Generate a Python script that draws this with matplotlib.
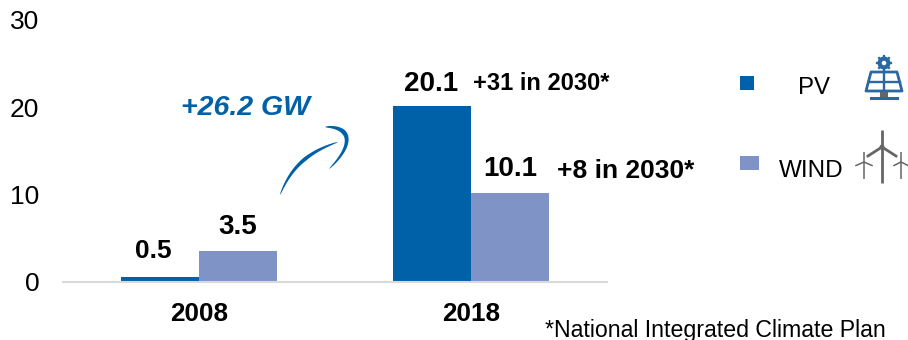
import numpy as np
import matplotlib
matplotlib.use("Agg")
import matplotlib.pyplot as plt
from matplotlib.patches import Circle, Polygon, Rectangle

plt.rcParams["font.family"] = ["Liberation Sans", "DejaVu Sans"]

WIDTH, HEIGHT = 908, 340
BLUE = "#0060A8"
LIGHT = "#7F93C7"
ICON_BLUE = "#2A68A4"
ICON_GREY = "#666666"

years = ["2008", "2018"]
pv = [0.5, 20.1]
wind = [3.5, 10.1]
y_ticks = [0, 10, 20, 30]
targets = ["+31 in 2030*", "+8 in 2030*"]
growth_label = "+26.2 GW"
footnote = "*National Integrated Climate Plan"


def bezier(points, n=50):
    points = np.array(points, dtype=float)
    t = np.linspace(0, 1, n)[:, None]
    return (
        (1 - t) ** 3 * points[0]
        + 3 * t * (1 - t) ** 2 * points[1]
        + 3 * t ** 2 * (1 - t) * points[2]
        + t ** 3 * points[3]
    )


def brush_stroke(ax, points, max_width, peak=0.6):
    # tapered stroke, thin at both ends
    line = bezier(points)
    tangent = np.gradient(line, axis=0)
    normal = np.column_stack([-tangent[:, 1], tangent[:, 0]])
    normal /= np.linalg.norm(normal, axis=1)[:, None]
    s = np.linspace(0, 1, len(line))
    w = np.where(s < peak, s / peak, (1 - s) / (1 - peak))
    w = max_width / 2 * w ** 0.5
    outline = np.vstack([line + normal * w[:, None], (line - normal * w[:, None])[::-1]])
    ax.add_patch(Polygon(outline, closed=True, color=BLUE, lw=0))


def draw_solar_icon(ax):
    # gear
    ax.add_patch(Circle((884, 63), 4.4, fill=False, ec=ICON_BLUE, lw=3.0))
    for angle in np.arange(0, 360, 45):
        dx, dy = np.cos(np.radians(angle)), np.sin(np.radians(angle))
        ax.plot([884 + 5 * dx, 884 + 7 * dx], [63 + 5 * dy, 63 + 7 * dy], color=ICON_BLUE, lw=1.6)
    # panel
    ax.add_patch(Polygon([(871, 72), (897, 72), (902, 91), (866, 91)], closed=True, fill=False,
                         ec=ICON_BLUE, lw=2.0, joinstyle="round"))
    ax.plot([868.5, 899.5], [81.5, 81.5], color=ICON_BLUE, lw=1.7)
    ax.plot([884, 884], [72, 91], color=ICON_BLUE, lw=1.7)
    ax.add_patch(Rectangle((880, 92), 8, 5, color=ICON_GREY, lw=0))
    ax.plot([871, 897], [98, 98], color=ICON_BLUE, lw=2.2)


def draw_turbine(ax, x, top, hub, bottom, reach, drop, lw, hub_size=0):
    ax.plot([x, x], [top, bottom], color=ICON_GREY, lw=lw, solid_capstyle="butt")
    ax.plot([x - reach, x, x + reach], [hub + drop, hub, hub + drop], color=ICON_GREY, lw=lw)
    if hub_size:
        ax.add_patch(Circle((x, hub), hub_size, color=ICON_GREY, lw=0))


fig = plt.figure(figsize=(WIDTH / 100, HEIGHT / 100), dpi=100)

# axes box: x 63-607 px, baseline at 281.5 px, y=30 at 20 px
ax = fig.add_axes([63 / WIDTH, 1 - 281.5 / HEIGHT, 544 / WIDTH, 261.5 / HEIGHT])
x = np.arange(len(years))
bar_width = 0.287
ax.bar(x - bar_width / 2, pv, bar_width, color=BLUE)
ax.bar(x + bar_width / 2, wind, bar_width, color=LIGHT)
ax.set_xlim(-0.5, 1.5)
ax.set_ylim(0, 30)
ax.set_yticks(y_ticks)
ax.set_xticks(x)
ax.set_xticklabels(years, fontsize=18.8, fontweight="bold")
ax.tick_params(axis="x", length=0, pad=15)
ax.tick_params(axis="y", length=0, pad=17, labelsize=19)
for side in ["top", "right", "left"]:
    ax.spines[side].set_visible(False)
ax.spines["bottom"].set_color("#D9D9D9")
ax.spines["bottom"].set_linewidth(1.5)

ax.annotate(f"{pv[0]}", (x[0] - bar_width / 2, pv[0]), xytext=(-5, 10), textcoords="offset points",
            ha="center", va="bottom", fontsize=19, fontweight="bold")
ax.annotate(f"{pv[1]}", (x[1] - bar_width / 2, pv[1]), xytext=(-1, 7), textcoords="offset points",
            ha="center", va="bottom", fontsize=20, fontweight="bold")
for xi, value in zip(x, wind):
    ax.annotate(f"{value}", (xi + bar_width / 2, value), xytext=(0, 8), textcoords="offset points",
                ha="center", va="bottom", fontsize=20, fontweight="bold")

# overlay in pixel coordinates for annotations and icons
over = fig.add_axes([0, 0, 1, 1], facecolor="none")
over.set_xlim(0, WIDTH)
over.set_ylim(HEIGHT, 0)
over.axis("off")

over.text(473, 83, targets[0], fontsize=17, fontweight="bold", va="center")
over.text(557, 171, targets[1], fontsize=19, fontweight="bold", va="center")
over.text(181, 108, growth_label, fontsize=20.5, fontweight="bold", style="italic", color=BLUE, va="center")
over.text(545, 330, footnote, fontsize=16.7, va="center")

brush_stroke(over, [(280, 195), (291, 167), (308, 152), (338, 142)], 3.8, peak=0.55)
brush_stroke(over, [(325, 127), (350, 126), (356, 143), (329, 169)], 4.6, peak=0.35)

over.add_patch(Rectangle((740, 76), 14, 14, color=BLUE, lw=0))
over.add_patch(Rectangle((740, 156), 19, 14, color=LIGHT, lw=0))
over.text(814, 88, "PV", fontsize=17.3, ha="center", va="center")
over.text(811, 171, "WIND", fontsize=17.5, ha="center", va="center")

draw_solar_icon(over)
draw_turbine(over, 882, 130, 147, 183, 14, 9, 2.0, hub_size=2.5)
draw_turbine(over, 864, 152, 162, 179, 8, 3.5, 1.1)
draw_turbine(over, 901, 152, 162, 179, 7, 3.5, 1.1)

fig.savefig("out.png", dpi=100)
plt.close(fig)
